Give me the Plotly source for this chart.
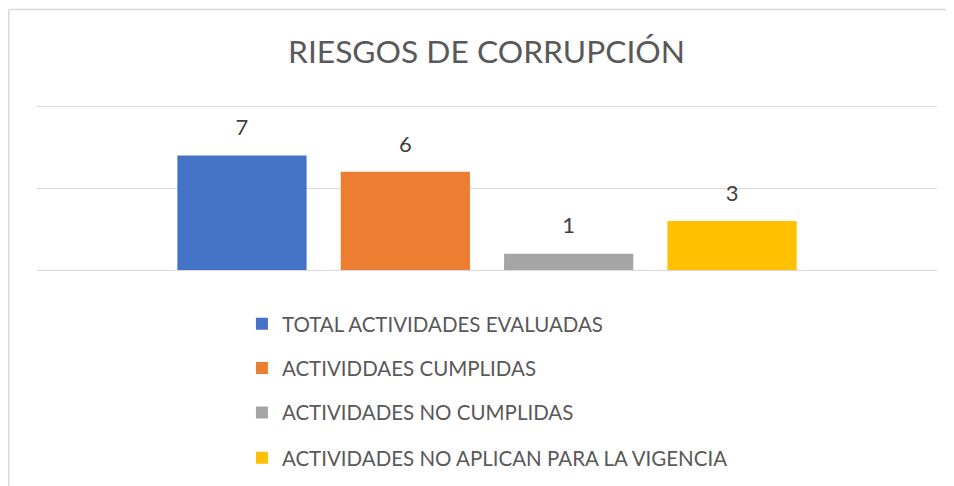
import plotly.graph_objects as go

categories = ["RIESGOS DE CORRUPCIÓN"]
series_names = [
    "TOTAL ACTIVIDADES EVALUADAS",
    "ACTIVIDDAES CUMPLIDAS",
    "ACTIVIDADES NO CUMPLIDAS",
    "ACTIVIDADES NO APLICAN PARA LA VIGENCIA",
]
series_values = [7, 6, 1, 3]
series_colors = ["#4472C4", "#ED7D31", "#A5A5A5", "#FFC000"]

FONT = "Lato"
W, H = 946, 478          # page body has an 8px margin
YMAX = 10.15
PLOT_BOTTOM = 262        # figure px
PH = 164 * YMAX / 10
L, R, B = 29, 17, H - PLOT_BOTTOM
T = H - B - PH

legend_ids = ["legend", "legend2", "legend3", "legend4"]
legend_centers = [316, 360.5, 405, 450.5]   # figure px

fig = go.Figure()
for i, (name, val, col) in enumerate(zip(series_names, series_values, series_colors)):
    fig.add_trace(go.Bar(
        x=categories, y=[val], name=name,
        marker=dict(color=col, line=dict(width=0)),
        legend=legend_ids[i], offsetgroup=f"o{i}", hoverinfo="skip",
    ))
for i, (name, val) in enumerate(zip(series_names, series_values)):
    fig.add_trace(go.Scatter(
        x=categories, y=[val], mode="markers+text", text=[str(val)],
        textposition="top center", showlegend=False, hoverinfo="skip",
        marker=dict(size=22, opacity=0),
        textfont=dict(family=FONT, size=22, color="#404040"),
        cliponaxis=False, offsetgroup=f"o{i}",
    ))

legend_style = dict(x=0.2277, xanchor="left", yanchor="middle", orientation="v",
                    font=dict(family=FONT, size=20.5, color="#595959"),
                    bgcolor="rgba(0,0,0,0)")
legend_layout = {}
for lid, c in zip(legend_ids, legend_centers):
    legend_layout[lid] = dict(legend_style, y=(PLOT_BOTTOM - c) / PH)

fig.update_layout(
    width=W, height=H,
    margin=dict(l=L, r=R, t=T, b=B, autoexpand=False),
    paper_bgcolor="white", plot_bgcolor="white",
    barmode="group", bargap=0.274, bargroupgap=0.209,
    scattermode="group", scattergap=0.274,
    title=dict(text="RIESGOS DE CORRUPCIÓN", x=478.5 / W, xanchor="center",
               y=1 - 44 / H, yanchor="middle", yref="container",
               font=dict(family=FONT, size=31.75, color="#595959")),
    showlegend=True,
    xaxis=dict(showticklabels=False, showgrid=False, zeroline=False, showline=False,
               ticks=""),
    yaxis=dict(range=[0, YMAX], tickvals=[0, 5, 10], showticklabels=False, showgrid=True,
               gridcolor="#D9D9D9", gridwidth=1.3, zeroline=True,
               zerolinecolor="#D9D9D9", zerolinewidth=1.3, ticks=""),
    shapes=[
        dict(type="line", xref="paper", yref="paper", x0=(0.75 - L) / 900, x1=1.3,
             y0=(PLOT_BOTTOM - 0.75) / PH, y1=(PLOT_BOTTOM - 0.75) / PH,
             line=dict(color="#D9D9D9", width=1.5)),
        dict(type="line", xref="paper", yref="paper", x0=(0.75 - L) / 900, x1=(0.75 - L) / 900,
             y0=(PLOT_BOTTOM - 0.75) / PH, y1=-2,
             line=dict(color="#D9D9D9", width=1.5)),
    ],
    **legend_layout,
)

fig.write_html("out.html")
